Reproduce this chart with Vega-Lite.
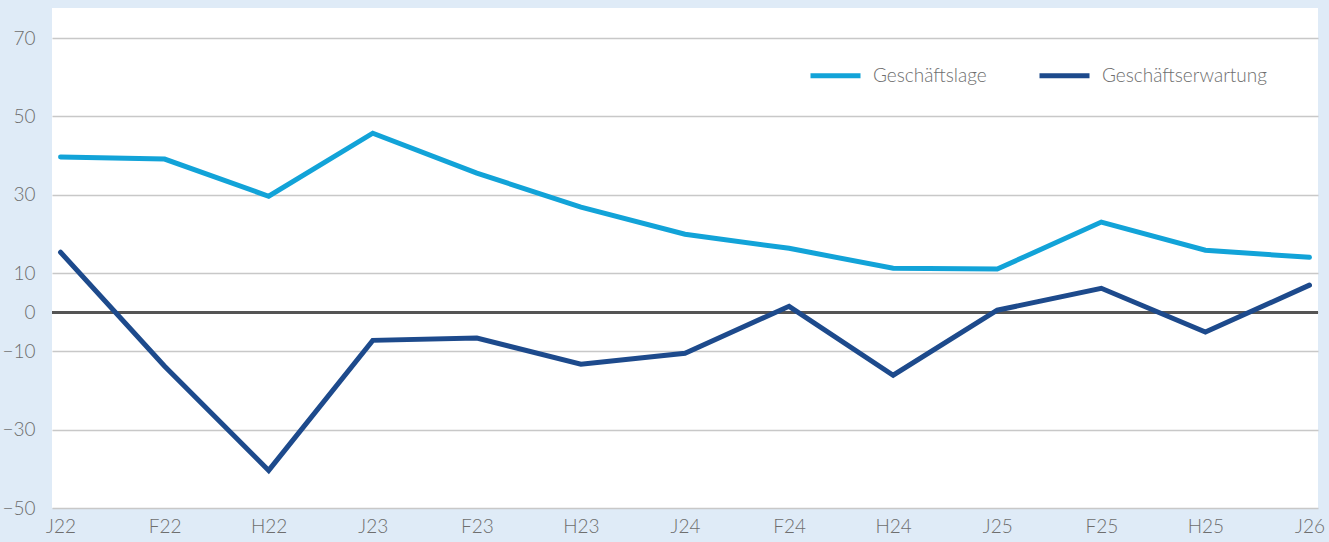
{
  "$schema": "https://vega.github.io/schema/vega-lite/v6.json",
  "width": 1266,
  "height": 500,
  "autosize": {"type": "none"},
  "padding": {"left": 52, "top": 8, "right": 11, "bottom": 34},
  "background": "#dfebf7",
  "config": {
    "view": {"fill": "white", "stroke": null},
    "font": "Lato"
  },
  "data": {
    "values": [
      {"q": "J22", "s": "Geschäftslage", "v": 39.6},
      {"q": "F22", "s": "Geschäftslage", "v": 39.1},
      {"q": "H22", "s": "Geschäftslage", "v": 29.6},
      {"q": "J23", "s": "Geschäftslage", "v": 45.7},
      {"q": "F23", "s": "Geschäftslage", "v": 35.5},
      {"q": "H23", "s": "Geschäftslage", "v": 26.8},
      {"q": "J24", "s": "Geschäftslage", "v": 19.9},
      {"q": "F24", "s": "Geschäftslage", "v": 16.3},
      {"q": "H24", "s": "Geschäftslage", "v": 11.2},
      {"q": "J25", "s": "Geschäftslage", "v": 11.0},
      {"q": "F25", "s": "Geschäftslage", "v": 23.0},
      {"q": "H25", "s": "Geschäftslage", "v": 15.8},
      {"q": "J26", "s": "Geschäftslage", "v": 14.0},
      {"q": "J22", "s": "Geschäftserwartung", "v": 15.3},
      {"q": "F22", "s": "Geschäftserwartung", "v": -13.8},
      {"q": "H22", "s": "Geschäftserwartung", "v": -40.4},
      {"q": "J23", "s": "Geschäftserwartung", "v": -7.2},
      {"q": "F23", "s": "Geschäftserwartung", "v": -6.6},
      {"q": "H23", "s": "Geschäftserwartung", "v": -13.3},
      {"q": "J24", "s": "Geschäftserwartung", "v": -10.5},
      {"q": "F24", "s": "Geschäftserwartung", "v": 1.5},
      {"q": "H24", "s": "Geschäftserwartung", "v": -16.1},
      {"q": "J25", "s": "Geschäftserwartung", "v": 0.5},
      {"q": "F25", "s": "Geschäftserwartung", "v": 6.1},
      {"q": "H25", "s": "Geschäftserwartung", "v": -5.1},
      {"q": "J26", "s": "Geschäftserwartung", "v": 6.9}
    ]
  },
  "layer": [
    {
      "mark": {"type": "rule", "color": "#555555", "strokeWidth": 2},
      "encoding": {"y": {"datum": 0, "type": "quantitative"}}
    },
    {
      "mark": {"type": "line", "strokeWidth": 5, "strokeJoin": "miter", "strokeCap": "round"},
      "encoding": {
        "x": {
          "field": "q", "type": "ordinal", "sort": null,
          "scale": {"type": "point", "padding": 0.082},
          "axis": {"title": null, "labelAngle": 0, "labelFontSize": 19, "labelFontWeight": 300, "labelColor": "#6e6e6e", "labelPadding": 9, "ticks": false, "domain": false, "grid": false, "labelFont": "Lato"}
        },
        "y": {
          "field": "v", "type": "quantitative",
          "scale": {"domain": [-50, 77.66], "nice": false, "zero": false},
          "axis": {"title": null, "values": [70, 50, 30, 10, 0, -10, -30, -50], "labelFontSize": 19, "labelFontWeight": 300, "labelColor": "#6e6e6e", "labelPadding": 17, "ticks": false, "domain": false, "grid": true, "gridColor": "#c8c8c8", "gridWidth": 1.5, "labelFont": "Lato"}
        },
        "color": {
          "field": "s", "type": "nominal",
          "scale": {"domain": ["Geschäftslage", "Geschäftserwartung"], "range": ["#12a3d8", "#1d4a8c"]},
          "legend": {
            "title": null, "orient": "none", "legendX": 756, "legendY": 40,
            "direction": "horizontal", "symbolType": "stroke", "symbolSize": 2500,
            "symbolStrokeWidth": 5, "labelFontSize": 19, "labelFontWeight": 300, "labelColor": "#6e6e6e",
            "labelOffset": 10, "columnPadding": 42, "padding": 0, "labelFont": "Lato", "labelLimit": 400
          }
        }
      }
    }
  ]
}
